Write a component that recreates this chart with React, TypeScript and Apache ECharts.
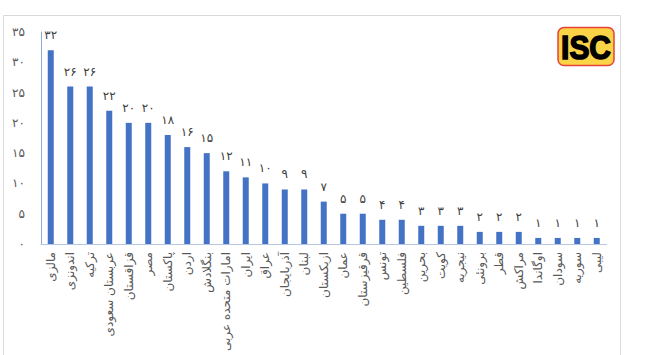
import React, { useEffect, useRef } from "react";
import * as echarts from "echarts";

const categories: string[] = [
  "مالزی",
  "اندونزی",
  "ترکیه",
  "عربستان سعودی",
  "قزاقستان",
  "مصر",
  "پاکستان",
  "اردن",
  "بنگلادش",
  "امارات متحده عربی",
  "ایران",
  "عراق",
  "آذربایجان",
  "لبنان",
  "ازبکستان",
  "عمان",
  "قرقیزستان",
  "تونس",
  "فلسطین",
  "بحرین",
  "کویت",
  "نیجریه",
  "برونئی",
  "قطر",
  "مراکش",
  "اوگاندا",
  "سودان",
  "سوریه",
  "لیبی",
];

const values: number[] = [
  32, 26, 26, 22, 20, 20, 18, 16, 15, 12, 11, 10, 9, 9, 7, 5, 5, 4, 4, 3, 3, 3, 2,
  2, 2, 1, 1, 1, 1,
];

const yMin = 0;
const yMax = 35;
const yInterval = 5;

const FA_DIGITS = "۰۱۲۳۴۵۶۷۸۹";
const toFa = (v: number | string) =>
  String(v).replace(/\d/g, (d) => FA_DIGITS[Number(d)]);

const FONT = "'DejaVu Sans', 'Noto Sans', sans-serif";

export default function App() {
  const ref = useRef<HTMLDivElement>(null);

  useEffect(() => {
    if (!ref.current) return;
    const chart = echarts.init(ref.current, undefined, { renderer: "svg" });
    chart.setOption({
      animation: false,
      backgroundColor: "#ffffff",
      grid: { left: 41, right: 50.5, top: 32, bottom: 111, containLabel: false },
      xAxis: {
        type: "category",
        data: categories,
        axisLine: { show: true, lineStyle: { color: "#b4c7e7", width: 1 } },
        axisTick: { show: false },
        axisLabel: {
          rotate: 90,
          interval: 0,
          margin: 8,
          fontSize: 12,
          color: "#595959",
          fontFamily: FONT,
        },
      },
      yAxis: {
        type: "value",
        min: yMin,
        max: yMax,
        interval: yInterval,
        splitLine: { show: false },
        axisLine: { show: true, lineStyle: { color: "#8faadc", width: 1 } },
        axisTick: { show: false },
        axisLabel: {
          margin: 16,
          fontSize: 12,
          color: "#595959",
          fontFamily: FONT,
          formatter: (v: number) => toFa(v),
        },
      },
      series: [
        {
          type: "bar",
          data: values,
          barWidth: 6,
          itemStyle: { color: "#4472c4" },
          label: {
            show: true,
            position: "top",
            distance: 9,
            fontSize: 12,
            color: "#404040",
            fontFamily: FONT,
            formatter: (p: any) => toFa(p.value),
          },
        },
      ],
      graphic: [
        {
          type: "rect",
          silent: true,
          shape: { x: 3.5, y: 15.5, width: 617, height: 360 },
          style: { fill: "none", stroke: "#d9d9d9", lineWidth: 1 },
        },
        {
          type: "rect",
          shape: { x: 558, y: 27.5, width: 56, height: 38, r: 6 },
          style: { fill: "#fbd347", stroke: "#e8403a", lineWidth: 1.5 },
        },
        {
          type: "text",
          x: 586,
          y: 47,
          scaleX: 0.88,
          style: {
            text: "ISC",
            x: 0,
            y: 0,
            align: "center",
            verticalAlign: "middle",
            fontSize: 34,
            fontWeight: 900,
            fontFamily: "'Liberation Sans', Arial, sans-serif",
            fill: "#000000",
            stroke: "#000000",
            lineWidth: 1.6,
          },
        },
      ],
    });
    return () => chart.dispose();
  }, []);

  return (
    <div
      ref={ref}
      style={{ position: "fixed", left: 0, top: 0, width: 657, height: 355 }}
    />
  );
}
